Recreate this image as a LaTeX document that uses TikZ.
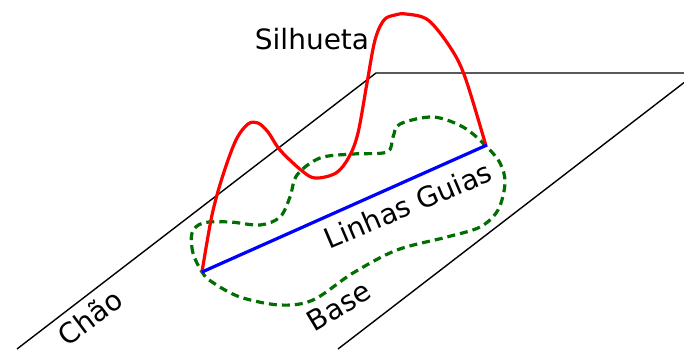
\documentclass[tikz,border=0pt]{standalone}
\usepackage{fontspec}
\setmainfont{DejaVu Sans}
\begin{document}
\begin{tikzpicture}[x=1pt,y=-1pt,
  ground/.style={draw=black,line width=1.4pt},
  silh/.style={draw=red,line width=3.2pt,line join=round},
  guide/.style={draw=blue,line width=3.2pt},
  basecurve/.style={draw={rgb,255:red,0;green,110;blue,0},line width=3.2pt,dash pattern=on 8pt off 5pt},
  lbl/.style={font=\fontsize{28}{30}\selectfont,inner sep=0pt}]
\useasboundingbox (0,0) rectangle (684,349);
\clip (0,0) rectangle (684,349);
\coordinate (g1) at (17,349);
\coordinate (g2) at (376,73);
\coordinate (g3) at (690,73);
\coordinate (g4) at (690,78);
\coordinate (g5) at (338,349);
\draw[ground] (g1) -- (g2) -- (g3);
\draw[ground] (g4) -- (g5);
\coordinate (bl) at (202,272);
\coordinate (br) at (487,145);
\draw[basecurve] plot[smooth cycle, tension=0.55] coordinates {
 (202,272) (193,253) (192,233) (203,223) (230,222) (260,225) (280,217) (290,197) (297,175)
 (320,158) (353,154) (387,152) (393,137) (400,124) (433,117) (463,127) (485,145)
 (500,163) (505,183) (498,210) (480,227) (447,237) (397,250) (353,273) (313,300)
 (280,305) (240,297) (212,282)};
\draw[silh] plot[smooth, tension=0.55] coordinates {
 (202,272) (212,215) (223,175) (236,140) (248,124) (258,123) (268,132) (280,150) (301,170)
 (315,178) (336,173) (349,157) (358,133) (367,83) (375,40) (384,20) (395,15) (406,14)
 (428,20) (450,47) (465,77) (486,146)};
\draw[guide] (bl) -- (br);
\node[lbl,anchor=base] (sil) at (312,49) {Silhueta};
\node[lbl,rotate=23] (lg) at (408,205) {Linhas Guias};
\node[lbl,rotate=37] (ch) at (90,317) {Chão};
\node[lbl,rotate=31] (bs) at (339,306) {Base};
\end{tikzpicture}
\end{document}
